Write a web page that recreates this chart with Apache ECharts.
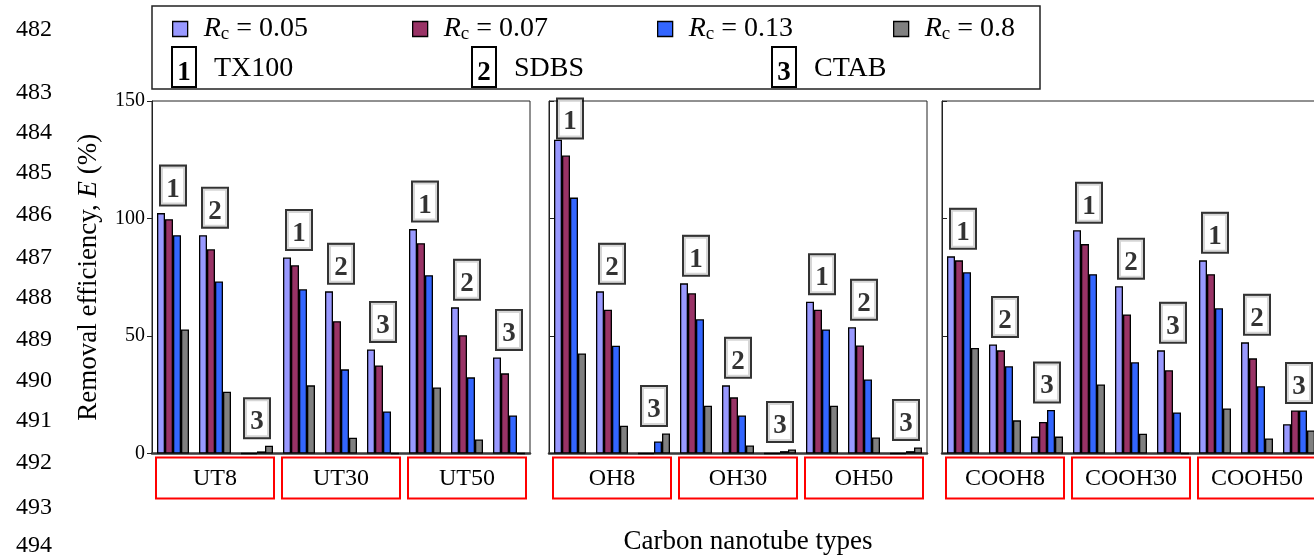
<!DOCTYPE html>
<html>
<head>
<meta charset="utf-8">
<script src="https://cdn.jsdelivr.net/npm/echarts@6/dist/echarts.min.js"></script>
<style>
html, body { margin: 0; padding: 0; background: #fff; }
#chart { width: 1314px; height: 556px; }
</style>
</head>
<body>
<div id="chart"></div>
<script>
// nanotube groups, one row per panel
const panels = [
    ['UT8', 'UT30', 'UT50'],
    ['OH8', 'OH30', 'OH50'],
    ['COOH8', 'COOH30', 'COOH50']
];
const surfactants = ['TX100', 'SDBS', 'CTAB'];
const rcNames = ['Rc = 0.05', 'Rc = 0.07', 'Rc = 0.13', 'Rc = 0.8'];
const rcColors = ['#9999ff', '#993366', '#3366ff', '#808080'];
const yTicks = [0, 50, 100, 150];
const lineNumbers = [482, 483, 484, 485, 486, 487, 488, 489, 490, 491, 492, 493, 494];

// removal efficiency (%), order: group -> surfactant (TX100, SDBS, CTAB)
const rc005 = [102.3, 92.9, 0,   83.4, 69.0, 44.3,  95.5, 62.2, 40.9,
               133.5, 69.0, 0,   72.4, 29.0, 0,     64.6, 53.7, 0,
               83.9, 46.4, 7.2,  95.0, 71.2, 43.9,  82.2, 47.3, 12.5];
const rc007 = [99.7, 86.9, 0,    80.1, 56.3, 37.5,  89.5, 50.3, 34.1,
               126.8, 61.2, 0,   68.2, 23.9, 0,     61.2, 46.0, 0,
               82.2, 43.9, 13.4, 89.1, 59.2, 35.4,  76.3, 40.5, 18.3];
const rc013 = [92.9, 73.2, 0.9,  69.9, 35.8, 17.9,  75.9, 32.4, 16.2,
               108.9, 45.9, 5.1, 57.1, 16.2, 1.0,   52.8, 31.5, 1.0,
               77.1, 37.1, 18.5, 76.3, 38.8, 17.5,  61.8, 28.6, 18.3];
const rc08  = [52.8, 26.3, 3.3,  29.0, 6.7, 0,      28.1, 6.0, 0,
               42.6, 11.8, 8.5,  20.3, 3.4, 1.7,    20.3, 6.8, 2.6,
               44.9, 14.1, 7.2,  29.4, 8.4, 0,      19.2, 6.4, 9.8];
const rcData = [rc005, rc007, rc013, rc08];

const serif = '"Liberation Serif", "DejaVu Serif", serif';
const gridLeft = [152, 549, 942];
const legendLeft = [172, 412, 657, 893];
const lineNumberY = [30, 93, 133, 173, 215, 258, 298, 340, 381, 421, 463, 508, 546];
const boxHeight = 38, boxGap = 8;

let chart = echarts.init(document.getElementById('chart'));

let grid = [], xAxis = [], yAxis = [], series = [], topsList = [];

panels.forEach((groups, p) => {
    grid.push({
        left: gridLeft[p], width: 378, top: 101, bottom: 102.5,
        outerBoundsMode: 'none', containLabel: false,
        show: true, borderColor: '#222', borderWidth: 1
    });

    // 9 bar clusters (3 groups x 3 surfactants)
    let cats = [];
    groups.forEach(g => surfactants.forEach((s, k) => cats.push(g + '-' + (k + 1))));
    xAxis.push({
        type: 'category', gridIndex: p, data: cats, position: 'bottom',
        axisLine: { lineStyle: { color: '#3a3a3a', width: 2.5 } },
        axisTick: { show: false }, axisLabel: { show: false }
    });
    // red boxed group names
    xAxis.push({
        type: 'category', gridIndex: p, data: groups, position: 'bottom',
        axisLine: { show: false }, axisTick: { show: false },
        axisLabel: {
            margin: 4, fontFamily: serif, fontSize: 24, color: '#000',
            borderColor: '#ff0000', borderWidth: 2,
            width: 114, height: 38, lineHeight: 38, padding: [2, 2, 1, 2], align: 'center'
        }
    });

    yAxis.push({
        type: 'value', gridIndex: p, min: 0, max: 150, interval: 50,
        splitLine: { show: false },
        axisLine: { show: true, lineStyle: { color: '#222' } },
        axisTick: { show: true, inside: p > 0, length: 5, lineStyle: { color: '#222' } },
        axisLabel: {
            show: p === 0, margin: 7, fontFamily: serif, fontSize: 20, color: '#000',
            customValues: yTicks
        },
        name: p === 0 ? 'Removal efficiency, {i|E} (%)' : '',
        nameLocation: 'middle', nameGap: 50, nameRotate: 90,
        nameTextStyle: {
            fontFamily: serif, fontSize: 27, color: '#000',
            rich: { i: { fontFamily: serif, fontSize: 27, fontStyle: 'italic', color: '#000' } }
        }
    });

    rcNames.forEach((name, r) => {
        series.push({
            name: name, type: 'bar', xAxisIndex: 2 * p, yAxisIndex: p,
            data: rcData[r].slice(p * 9, p * 9 + 9),
            barWidth: 8, barGap: '0%',
            itemStyle: { color: rcColors[r], borderColor: '#000', borderWidth: 1.3 }
        });
    });

    // boxed surfactant numbers above each cluster
    let tops = [];
    for (let i = p * 9; i < p * 9 + 9; i++) {
        tops.push(Math.max(rc005[i], rc007[i], rc013[i], rc08[i]));
    }
    topsList.push(tops);
    series.push({
        id: 'num' + p,
        type: 'scatter', xAxisIndex: 2 * p, yAxisIndex: p, data: tops,
        symbolSize: 1, itemStyle: { color: 'rgba(0,0,0,0)' }, z: 5,
        label: {
            show: true, position: 'top', distance: boxGap,
            formatter: param => String(param.dataIndex % 3 + 1),
            fontFamily: serif, fontSize: 27, fontWeight: 'bold', color: '#000',
            textBorderWidth: 0,
            backgroundColor: '#fff', borderColor: '#000', borderWidth: 2,
            width: 20, height: 30, lineHeight: 30, padding: [8, 2, 0, 2], align: 'center'
        }
    });
});

// legend row 1: one legend per Rc value
let legend = rcNames.map((name, i) => ({
    data: [name], left: legendLeft[i], top: 15, padding: 0,
    icon: 'rect', itemWidth: 15, itemHeight: 15, selectedMode: false,
    itemStyle: { borderColor: '#000', borderWidth: 1.3 },
    formatter: n => '{i|R}{s|c}{t|' + n.slice(2) + '}',
    textStyle: {
        padding: [0, 0, 0, 11],
        rich: {
            i: { fontFamily: serif, fontSize: 28, fontStyle: 'italic', color: '#000' },
            s: { fontFamily: serif, fontSize: 19, color: '#000', padding: [10, 0, 0, 0] },
            t: { fontFamily: serif, fontSize: 28, color: '#000' }
        }
    }
}));

let graphic = [{
    type: 'rect', shape: { x: 152, y: 6, width: 888, height: 83 },
    style: { fill: 'none', stroke: '#222', lineWidth: 1.5 }
}];

// legend row 2: surfactant keys
surfactants.forEach((s, i) => {
    let x = 172 + i * 300;
    graphic.push({
        type: 'rect', shape: { x: x, y: 47, width: 24, height: 40 },
        style: { fill: '#fff', stroke: '#000', lineWidth: 2 }
    });
    graphic.push({
        type: 'text', x: x + 12, y: 73,
        style: { text: String(i + 1), font: 'bold 27px ' + serif, fill: '#000', align: 'center', verticalAlign: 'middle' }
    });
    graphic.push({
        type: 'text', x: x + 42, y: 69,
        style: { text: s, font: '28px ' + serif, fill: '#000', align: 'left', verticalAlign: 'middle' }
    });
});

// page line numbers
lineNumbers.forEach((n, i) => {
    graphic.push({
        type: 'text', x: 52, y: lineNumberY[i],
        style: { text: String(n), font: '24px ' + serif, fill: '#000', align: 'right', verticalAlign: 'middle' }
    });
});

graphic.push({
    type: 'text', x: 748, y: 542,
    style: { text: 'Carbon nanotube types', font: '27px ' + serif, fill: '#000', align: 'center', verticalAlign: 'middle' }
});

chart.setOption({
    animation: false,
    backgroundColor: '#fff',
    legend: legend,
    grid: grid,
    xAxis: xAxis,
    yAxis: yAxis,
    series: series,
    graphic: graphic
});

// squeeze the gap for boxes that would poke out of the panel top
let panelTop = 100;
chart.setOption({
    series: topsList.map((tops, p) => ({
        id: 'num' + p,
        data: tops.map((v, i) => {
            let py = chart.convertToPixel({ xAxisIndex: 2 * p, yAxisIndex: p }, [i, v])[1];
            let d = Math.min(boxGap, py - panelTop - boxHeight);
            return { value: v, label: { distance: Math.max(d, 0) } };
        })
    }))
});
</script>
</body>
</html>
